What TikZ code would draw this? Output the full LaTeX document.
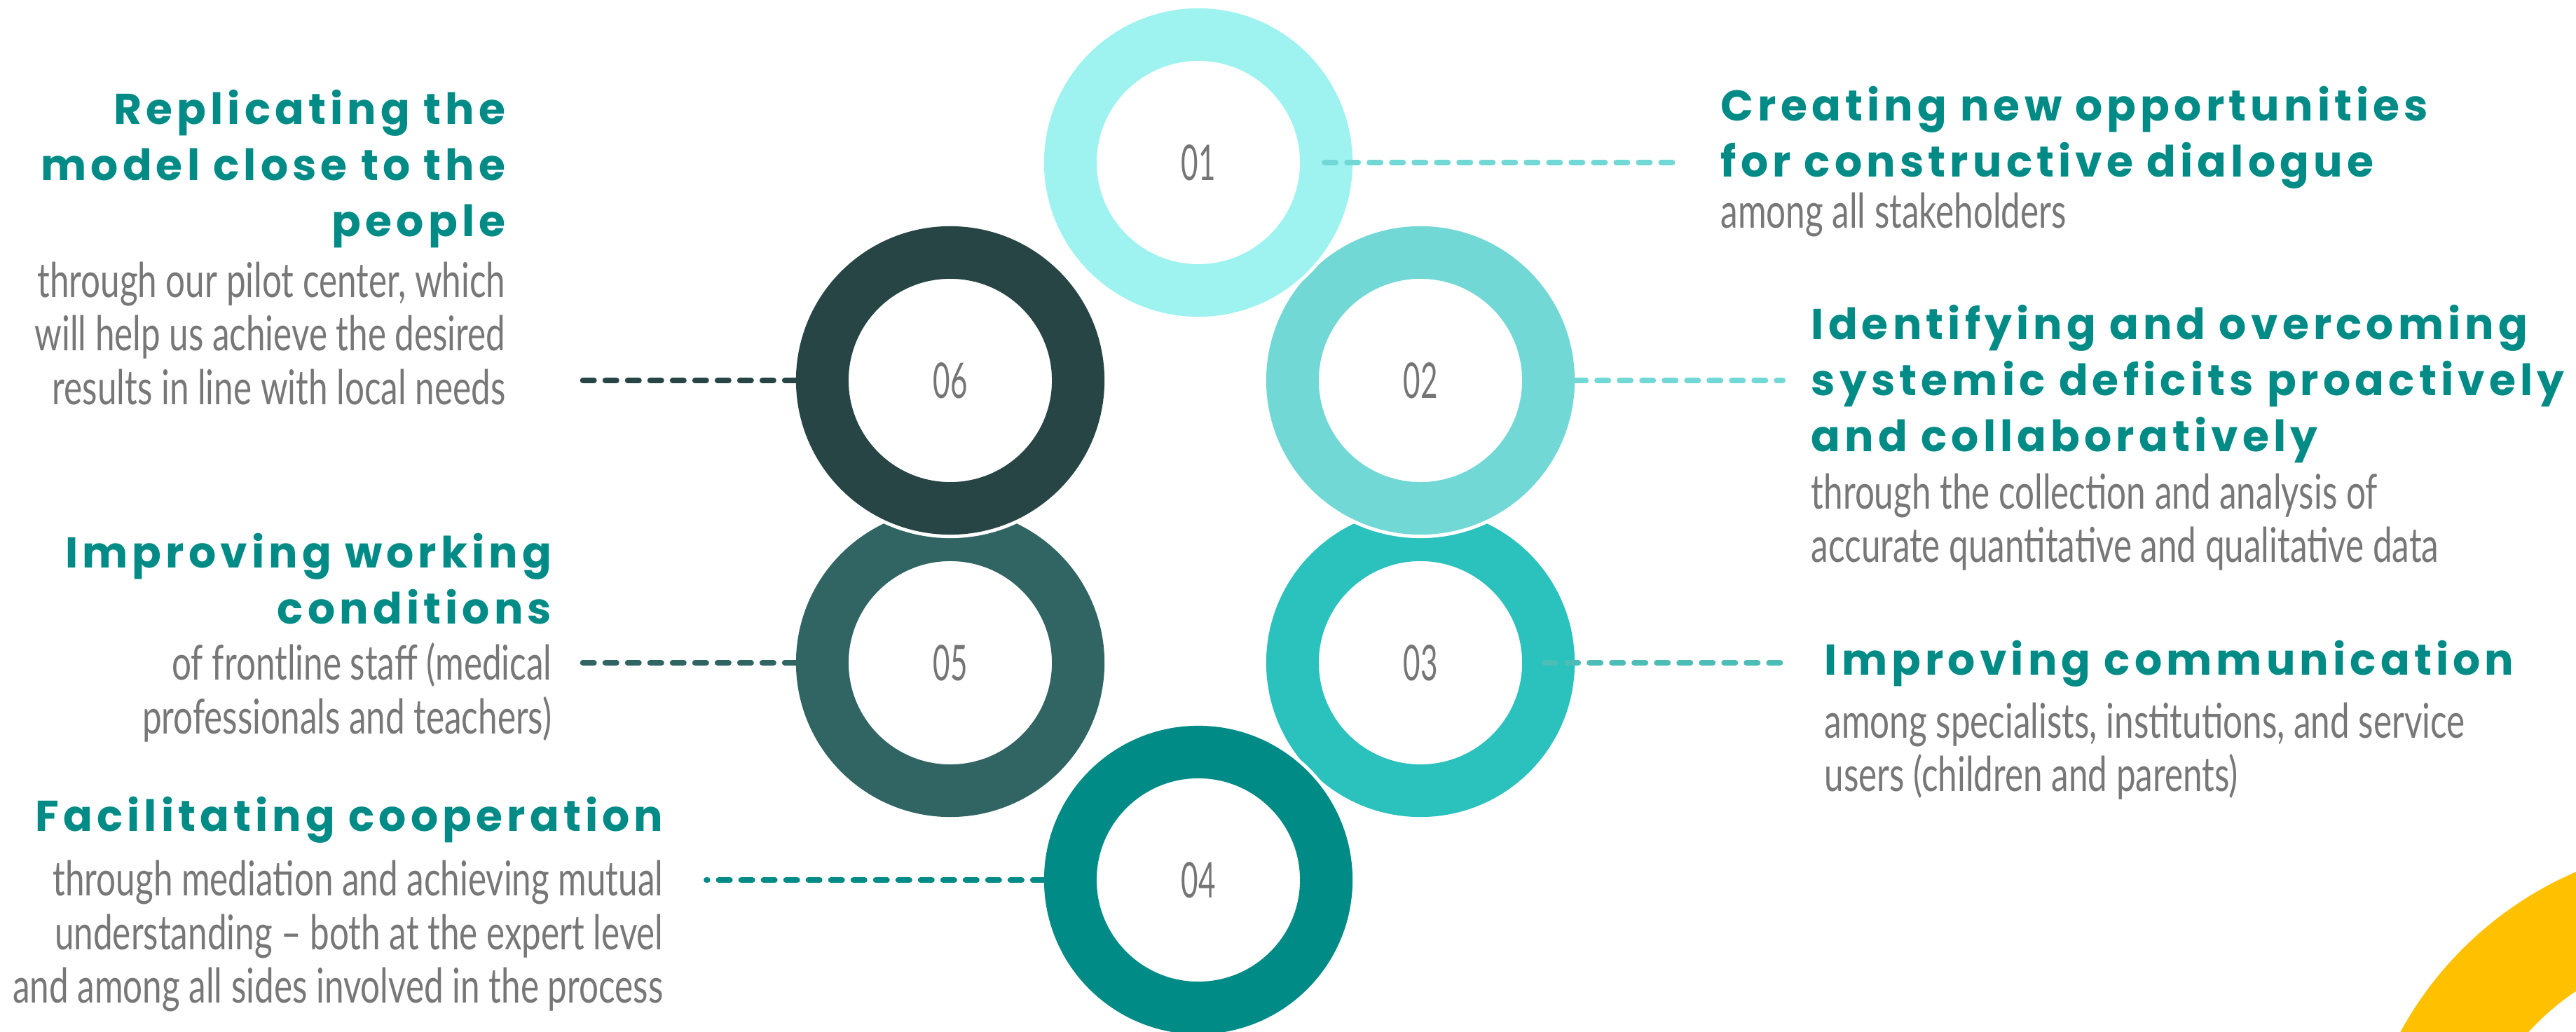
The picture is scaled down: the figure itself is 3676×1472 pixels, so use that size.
\documentclass[tikz,border=0pt]{standalone}
\usepackage{fontspec}
\newfontfamily\headfont[LetterSpace=10]{Poppins}
\newfontfamily\bodyfont[FakeStretch=0.72]{Lato}
\newfontfamily\numfont[FakeStretch=0.6]{Lato}
\definecolor{ringa}{HTML}{9EF3F0}
\definecolor{ringb}{HTML}{72D8D6}
\definecolor{ringc}{HTML}{2BC1BC}
\definecolor{ringd}{HTML}{008B86}
\definecolor{ringe}{HTML}{306563}
\definecolor{ringf}{HTML}{284545}
\definecolor{ringy}{HTML}{FFC000}
\definecolor{dashc}{HTML}{4DBDB8}
\definecolor{headteal}{HTML}{008B86}
\definecolor{bodygray}{HTML}{777777}
\definecolor{numgray}{HTML}{757575}
\begin{document}
\begin{tikzpicture}[x=0.01cm,y=0.01cm,
  ringnode/.style={circle,draw=#1,line width=.75cm,minimum size=3.65cm,inner sep=0pt,
    preaction={draw=white,line width=.85cm},text=numgray,
    font=\numfont\fontsize{20}{22}\selectfont},
  dashlink/.style={draw=#1,line width=.08cm,line cap=round,dash pattern=on .16cm off .16cm},
  headtext/.style={inner sep=0pt,text=headteal,font=\headfont\bfseries\fontsize{17.5}{22.8}\selectfont},
  bodytext/.style={inner sep=0pt,text=bodygray,font=\bodyfont\fontsize{19.5}{21.8}\selectfont}]
\useasboundingbox (0,0) rectangle (3676,1472);
\begin{scope}
\clip (0,0) rectangle (3676,1472);
\fill[ringy,even odd rule] (3880,-248) circle (5.17cm) circle (3.67cm);
\end{scope}
\node[ringnode=ringc] (r03) at (2027,526) {03};
\node[ringnode=ringb] (r02) at (2027,929) {02};
\node[ringnode=ringe] (r05) at (1356,526) {05};
\node[ringnode=ringf] (r06) at (1356,929) {06};
\node[ringnode=ringd] (r04) at (1710,216) {04};
\node[ringnode=ringa] (r01) at (1710,1240) {01};
\node[headtext,anchor=west,align=left] (h01) at (2455,1276) {Creating new opportunities\\for constructive dialogue};
\node[bodytext,anchor=west,align=left] (b01) at (2455,1165) {among all stakeholders};
\node[headtext,anchor=west,align=left] (h02) at (2584,924) {Identifying and overcoming\\systemic deficits proactively\\and collaboratively};
\node[bodytext,anchor=west,align=left] (b02) at (2584,727) {through the collection and analysis of\\accurate quantitative and qualitative data};
\node[headtext,anchor=west,align=left] (h03) at (2603,525) {Improving communication};
\node[bodytext,anchor=west,align=left] (b03) at (2603,400) {among specialists, institutions, and service\\users (children and parents)};
\node[headtext,anchor=east,align=right] (h06) at (722,1231) {Replicating the\\model close to the\\people};
\node[bodytext,anchor=east,align=right] (b06) at (722,996) {through our pilot center, which\\will help us achieve the desired\\results in line with local needs};
\node[headtext,anchor=east,align=right] (h05) at (788,646) {Improving working\\conditions};
\node[bodytext,anchor=east,align=right] (b05) at (788,484) {of frontline staff (medical\\professionals and teachers)};
\node[headtext,anchor=east,align=right] (h04) at (947,302) {Facilitating cooperation};
\node[bodytext,anchor=east,align=right] (b04) at (947,136) {through mediation and achieving mutual\\understanding – both at the expert level\\and among all sides involved in the process};
\draw[dashlink=ringb,shorten >=.64cm] ([xshift=-.4cm]r01.east) -- (r01.east -| h01.west);
\draw[dashlink=ringb,shorten >=.4cm] (r02.east) -- (r02.east -| h02.west);
\draw[dashlink=dashc,shorten >=.59cm] ([xshift=-.43cm]r03.east) -- (r03.east -| h03.west);
\draw[dashlink=ringd,shorten >=.61cm] (r04.west) -- (r04.west -| b04.east);
\draw[dashlink=ringe,shorten >=.42cm] (r05.west) -- (r05.west -| b05.east);
\draw[dashlink=ringf,shorten >=1.03cm] (r06.west) -- (r06.west -| b06.east);
\end{tikzpicture}
\end{document}
